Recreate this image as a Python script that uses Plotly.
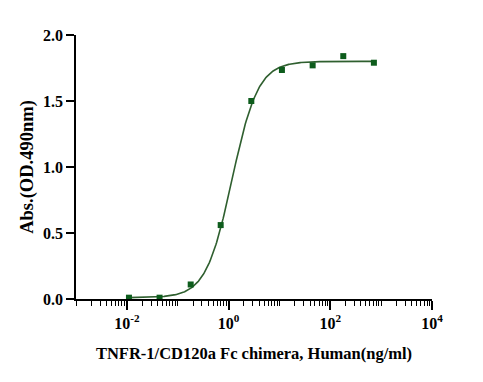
import numpy as np
import plotly.graph_objects as go

# Data
conc = [0.011, 0.044, 0.18, 0.70, 2.8, 11.2, 45, 180, 720]
absorb = [0.01, 0.01, 0.11, 0.56, 1.50, 1.735, 1.77, 1.84, 1.79]

# 4PL fit parameters (estimated from the fitted curve)
fit_bottom = 0.01
fit_top = 1.80
fit_ec50 = 1.17
fit_hill = 1.7

x_tickvals = [1e-2, 1, 1e2, 1e4]
x_ticktext = ["10<sup>-2</sup>", "10<sup>0</sup>", "10<sup>2</sup>", "10<sup>4</sup>"]
y_tickvals = [0.0, 0.5, 1.0, 1.5, 2.0]
y_ticktext = ["0.0", "0.5", "1.0", "1.5", "2.0"]

xc = np.logspace(np.log10(conc[0]), np.log10(conc[-1]), 300)
yc = fit_bottom + (fit_top - fit_bottom) / (1 + (fit_ec50 / xc) ** fit_hill)

minor_vals = [m * 10.0 ** e for e in range(-3, 4) for m in range(1, 10)]
minor_vals = [v for v in minor_vals if v not in x_tickvals and v <= 1e4]

font = "Liberation Serif"

fig = go.Figure()
fig.add_trace(go.Scatter(x=xc, y=yc, mode="lines",
                         line=dict(color="#2f5f2f", width=1.6),
                         hoverinfo="skip", showlegend=False))
fig.add_trace(go.Scatter(x=conc, y=absorb, mode="markers",
                         marker=dict(symbol="square", size=6, color="#0d5c1c"),
                         cliponaxis=False, showlegend=False))

fig.update_layout(
    width=475, height=374,
    margin=dict(l=68, r=51, t=27, b=83),
    paper_bgcolor="white", plot_bgcolor="white",
    font=dict(family=font, color="black", size=16),
    xaxis=dict(
        type="log", range=[-3, 4], automargin=False,
        tickvals=x_tickvals, ticktext=["<b>%s</b>" % t for t in x_ticktext],
        ticks="outside", ticklen=9, tickwidth=1.5, tickcolor="black",
        showline=True, linecolor="black", linewidth=1.5,
        showgrid=False, zeroline=False,
        tickfont=dict(family=font, size=16, color="black"),
        minor=dict(tickvals=minor_vals, ticks="outside", ticklen=5,
                   tickwidth=1.2, tickcolor="black", showgrid=False),
        title=dict(text="<b>TNFR-1/CD120a Fc chimera, Human(ng/ml)</b>",
                   font=dict(family=font, size=16.5, color="black"), standoff=16),
    ),
    yaxis=dict(
        range=[0, 2], automargin=False,
        tickvals=y_tickvals, ticktext=["<b>%s</b>" % t for t in y_ticktext],
        ticks="outside", ticklen=8, tickwidth=1.5, tickcolor="black",
        showline=True, linecolor="black", linewidth=1.5,
        showgrid=False, zeroline=False,
        tickfont=dict(family=font, size=16, color="black"),
        title=dict(text="<b>Abs.(OD.490nm)</b>",
                   font=dict(family=font, size=18.5, color="black"), standoff=5),
    ),
)

fig.write_html("out.html")
